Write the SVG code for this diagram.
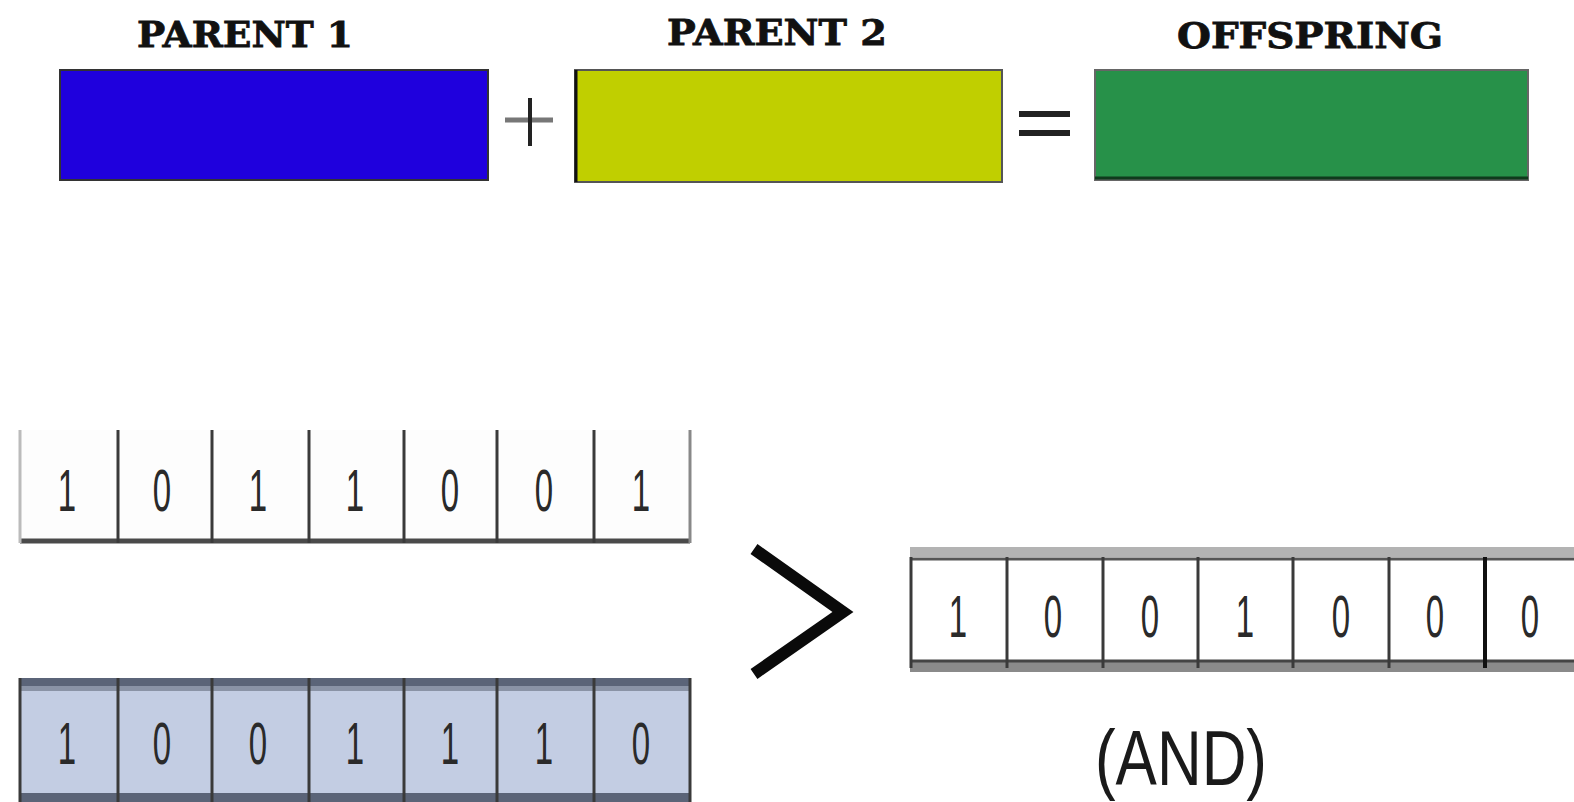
<svg xmlns="http://www.w3.org/2000/svg" width="1574" height="802" viewBox="0 0 1574 802">
  <defs>
    <style>
      .title { font-family: "DejaVu Serif", "Liberation Serif", serif; font-weight: bold; font-size: 36px; fill: #111; stroke: #111; stroke-width: 0.8; text-anchor: middle; }
      .bit { font-family: "Liberation Sans", Arial, sans-serif; font-size: 60px; fill: #2a2a2a; text-anchor: middle; }
      .sep { stroke: #3a3a3a; stroke-width: 3; }
      .op { stroke-linecap: butt; fill: none; }
    </style>
  </defs>

  <rect width="1574" height="802" fill="#ffffff"/>

  <!-- top row: parents and offspring blocks -->
  <g id="parent1">
    <text class="title" x="245" y="47" textLength="216" lengthAdjust="spacingAndGlyphs">PARENT 1</text>
    <rect x="60" y="70" width="428" height="110" fill="#1f00dd" stroke="#333" stroke-width="2"/>
  </g>
  <g id="plus">
    <line class="op" x1="505" y1="120" x2="553" y2="120" stroke="#777" stroke-width="5"/>
    <line class="op" x1="530" y1="98" x2="530" y2="146" stroke="#222" stroke-width="4"/>
  </g>
  <g id="parent2">
    <text class="title" x="777" y="45" textLength="220" lengthAdjust="spacingAndGlyphs">PARENT 2</text>
    <rect x="575" y="70" width="427" height="112" fill="#c0cf00" stroke="#555" stroke-width="2"/>
    <line x1="576" y1="70" x2="576" y2="182" stroke="#111" stroke-width="3"/>
  </g>
  <g id="equals">
    <line class="op" x1="1019" y1="114" x2="1070" y2="114" stroke="#222" stroke-width="6"/>
    <line class="op" x1="1019" y1="133" x2="1070" y2="133" stroke="#222" stroke-width="6"/>
  </g>
  <g id="offspring">
    <text class="title" x="1310" y="48" textLength="266" lengthAdjust="spacingAndGlyphs">OFFSPRING</text>
    <rect x="1095" y="70" width="433" height="110" fill="#279149" stroke="#666" stroke-width="2"/>
    <line x1="1095" y1="178" x2="1528" y2="178" stroke="#0f3a1c" stroke-width="3"/>
  </g>

  <!-- first bit string -->
  <g id="string-a">
    <rect x="20" y="430" width="670" height="112" fill="#fdfdfd"/>
    <line x1="20" y1="541" x2="690" y2="541" stroke="#4a4a4a" stroke-width="5"/>
    <g class="sep">
      <line x1="20" y1="430" x2="20" y2="543" stroke="#bbb"/>
      <line x1="118" y1="430" x2="118" y2="543"/>
      <line x1="212" y1="430" x2="212" y2="543"/>
      <line x1="309" y1="430" x2="309" y2="543"/>
      <line x1="404" y1="430" x2="404" y2="543"/>
      <line x1="497" y1="430" x2="497" y2="543"/>
      <line x1="594" y1="430" x2="594" y2="543"/>
      <line x1="690" y1="430" x2="690" y2="543" stroke="#888"/>
    </g>
    <g class="bit">
      <text transform="translate(67,511) scale(0.55,1)">1</text>
      <text transform="translate(162,511) scale(0.55,1)">0</text>
      <text transform="translate(258,511) scale(0.55,1)">1</text>
      <text transform="translate(355,511) scale(0.55,1)">1</text>
      <text transform="translate(450,511) scale(0.55,1)">0</text>
      <text transform="translate(544,511) scale(0.55,1)">0</text>
      <text transform="translate(641,511) scale(0.55,1)">1</text>
    </g>
  </g>

  <!-- second bit string -->
  <g id="string-b">
    <rect x="20" y="678" width="670" height="124" fill="#c3cde3"/>
    <rect x="20" y="678" width="670" height="8" fill="#5b6478"/>
    <rect x="20" y="686" width="670" height="5" fill="#8a93a6"/>
    <rect x="20" y="793" width="670" height="9" fill="#5b6478"/>
    <g class="sep" stroke="#404858">
      <line x1="20" y1="678" x2="20" y2="802"/>
      <line x1="118" y1="678" x2="118" y2="802"/>
      <line x1="212" y1="678" x2="212" y2="802"/>
      <line x1="309" y1="678" x2="309" y2="802"/>
      <line x1="404" y1="678" x2="404" y2="802"/>
      <line x1="497" y1="678" x2="497" y2="802"/>
      <line x1="594" y1="678" x2="594" y2="802"/>
      <line x1="690" y1="678" x2="690" y2="802"/>
    </g>
    <g class="bit" fill="#1f2430">
      <text transform="translate(67,764) scale(0.55,1)">1</text>
      <text transform="translate(162,764) scale(0.55,1)">0</text>
      <text transform="translate(258,764) scale(0.55,1)">0</text>
      <text transform="translate(355,764) scale(0.55,1)">1</text>
      <text transform="translate(450,764) scale(0.55,1)">1</text>
      <text transform="translate(544,764) scale(0.55,1)">1</text>
      <text transform="translate(641,764) scale(0.55,1)">0</text>
    </g>
  </g>

  <!-- combining chevron -->
  <g id="connectors">
    <polyline points="754,549 843,612 754,674" fill="none" stroke="#0a0a0a" stroke-width="12" stroke-linejoin="miter"/>
  </g>

  <!-- result bit string -->
  <g id="result">
    <rect x="910" y="549" width="664" height="124" fill="#ffffff"/>
    <rect x="910" y="547" width="664" height="10" fill="#b3b3b3"/>
    <line x1="910" y1="559" x2="1574" y2="559" stroke="#555" stroke-width="3"/>
    <rect x="910" y="660" width="664" height="12" fill="#8a8a8a"/>
    <line x1="910" y1="661" x2="1574" y2="661" stroke="#444" stroke-width="3"/>
    <g class="sep" stroke="#333">
      <line x1="911" y1="557" x2="911" y2="668"/>
      <line x1="1007" y1="557" x2="1007" y2="668"/>
      <line x1="1103" y1="557" x2="1103" y2="668"/>
      <line x1="1198" y1="557" x2="1198" y2="668"/>
      <line x1="1293" y1="557" x2="1293" y2="668"/>
      <line x1="1389" y1="557" x2="1389" y2="668"/>
      <line x1="1485" y1="557" x2="1485" y2="668" stroke-width="4" stroke="#111"/>
    </g>
    <g class="bit">
      <text transform="translate(958,637) scale(0.55,1)">1</text>
      <text transform="translate(1053,637) scale(0.55,1)">0</text>
      <text transform="translate(1150,637) scale(0.55,1)">0</text>
      <text transform="translate(1245,637) scale(0.55,1)">1</text>
      <text transform="translate(1341,637) scale(0.55,1)">0</text>
      <text transform="translate(1435,637) scale(0.55,1)">0</text>
      <text transform="translate(1530,637) scale(0.55,1)">0</text>
    </g>
    <text x="1181" y="785" font-family="Liberation Sans, Arial, sans-serif" font-size="78" fill="#1a1a1a" text-anchor="middle" textLength="172" lengthAdjust="spacingAndGlyphs">(AND)</text>
  </g>
</svg>
